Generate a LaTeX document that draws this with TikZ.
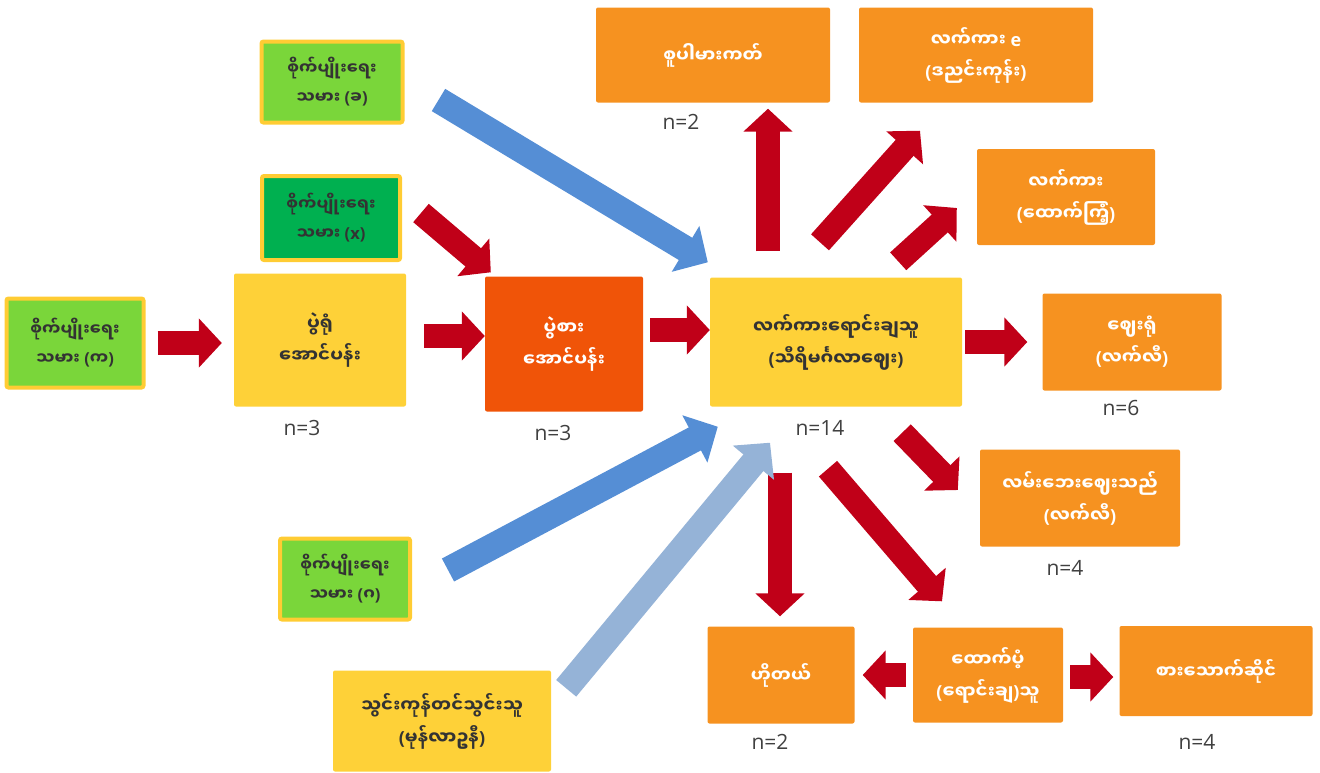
\documentclass[tikz,border=0pt]{standalone}
\usepackage{fontspec}
\setmainfont{Open Sans}
\newfontfamily\mmfont[Script=Myanmar]{Noto Sans Myanmar UI}
\newfontfamily\latfont{Open Sans}
\newcommand{\lat}[1]{{\latfont\bfseries #1}}
\newcommand{\parL}{\lat{(}}
\newcommand{\parR}{\lat{)}}
\usetikzlibrary{arrows.meta,calc,positioning}
\definecolor{grnlt}{RGB}{122,214,58}
\definecolor{grndk}{RGB}{0,176,80}
\definecolor{yel}{RGB}{254,209,56}
\definecolor{frame}{RGB}{255,204,51}
\definecolor{org}{RGB}{246,146,32}
\definecolor{orgred}{RGB}{240,84,8}
\definecolor{arrred}{RGB}{192,0,24}
\definecolor{arrblue}{RGB}{85,142,213}
\definecolor{arrlblue}{RGB}{149,179,215}
\definecolor{txtd}{RGB}{51,51,51}
\definecolor{ntext}{RGB}{64,64,64}

\begin{document}
\begin{tikzpicture}[x=1pt,y=-1pt]
\useasboundingbox (0,0) rectangle (1320,772);
			\begin{scope}[every node/.style={rounded corners=2pt,align=center,inner sep=2pt,
                font={\mmfont\bfseries\fontsize{18}{32}\selectfont}},
              farmer/.style={draw=frame,line width=4pt,text=txtd,
                font={\mmfont\bfseries\fontsize{16.5}{29}\selectfont}},
              ybox/.style={fill=yel,text=txtd},
              obox/.style={fill=org,text=white}]
    \node[farmer,fill=grnlt,minimum width=141pt,minimum height=81pt] (GB) at (332,82) {စိုက်ပျိုးရေး\\သမား \parL ခ\parR};
    \node[farmer,fill=grndk,minimum width=138pt,minimum height=84pt] (GX) at (331,218) {စိုက်ပျိုးရေး\\သမား \parL\lat{x}\parR};
    \node[farmer,fill=grnlt,minimum width=137pt,minimum height=89pt] (GK) at (75,343) {စိုက်ပျိုးရေး\\သမား \parL က\parR};
    \node[farmer,fill=grnlt,minimum width=130pt,minimum height=81pt] (GG) at (345,579) {စိုက်ပျိုးရေး\\သမား \parL ဂ\parR};
    \node[ybox,minimum width=172pt,minimum height=133pt] (Y1) at (320,340) {ပွဲရုံ\\အောင်ပန်း};
    \node[fill=orgred,text=white,minimum width=158pt,minimum height=135pt] (R) at (564,344) {ပွဲစား\\အောင်ပန်း};
    \node[ybox,minimum width=252pt,minimum height=129pt] (Y2) at (836,342) {လက်ကားရောင်းချသူ\\\parL သီရိမင်္ဂလာဈေး\parR};
    \node[ybox,minimum width=218pt,minimum height=101pt] (Y3) at (442,721) {သွင်းကုန်တင်သွင်းသူ\\\parL မုန်လာဥနီ\parR};
    \node[obox,minimum width=234pt,minimum height=95pt] (S) at (713,55) {စူပါမားကတ်};
    \node[obox,minimum width=234pt,minimum height=95pt] (E) at (976,55) {လက်ကား \lat{e}\\\parL ဒညင်းကုန်း\parR};
    \node[obox,minimum width=178pt,minimum height=96pt] (TK) at (1066,197) {လက်ကား\\\parL ထောက်ကြံ့\parR};
    \node[obox,minimum width=179pt,minimum height=97pt] (ZR) at (1132,342) {ဈေးရုံ\\\parL လက်လီ\parR};
    \node[obox,minimum width=200pt,minimum height=97pt] (LB) at (1080,498) {လမ်းဘေးဈေးသည်\\\parL လက်လီ\parR};
    \node[obox,minimum width=147pt,minimum height=97pt] (H) at (781,675) {ဟိုတယ်};
    \node[obox,minimum width=150pt,minimum height=95pt] (TP) at (988,675) {ထောက်ပံ့\\\parL ရောင်းချ\parR သူ};
    \node[obox,minimum width=193pt,minimum height=90pt] (RS) at (1216,671) {စားသောက်ဆိုင်};
			\end{scope}
			\begin{scope}[every node/.style={text=ntext,font=\fontsize{21}{24}\selectfont},
              redarr/.style={draw=arrred,line width=24pt,-{Triangle[length=23pt,width=48pt]}},
              bluarr/.style={draw=arrblue,line width=26pt,-{Triangle[length=26pt,width=52pt]}},
              lbarr/.style={draw=arrlblue,line width=26pt,-{Triangle[length=26pt,width=52pt]}}]
    % counts
    \node (n1) at (302,428) {n=3};
    \node (n2) at (553,433) {n=3};
    \node (n3) at (820,428) {n=14};
    \node (n4) at (681,122) {n=2};
    \node (n5) at (1121,408) {n=6};
    \node (n6) at (1065,568) {n=4};
    \node (n7) at (770,742) {n=2};
    \node (n8) at (1197,742) {n=4};
    % flows
    \path[redarr] ($(GK.east)+(12,0)$) -- ($(GK.east -| Y1.west)+(-12,0)$);
    \path[redarr] ($(Y1.east)+(18,-4)$) -- ($(Y1.east -| R.west)+(0,-4)$);
    \path[redarr] ($(GX.east)+(19,-5)$) -- ($(R.north west)+(6,-4)$);
    \path[redarr] ($(R.east)+(7,-14)$) -- ($(R.east -| Y2.west)+(0,-14)$);
    \path[redarr] ($(Y2.north)+(-68,-26)$) -- ($(S.south)+(55,6)$);
    \path[redarr] ($(Y2.north)+(-16,-35)$) -- ($(E.south)+(-56,28)$);
    \path[redarr] ($(Y2.north east)+(-64,-16)$) -- ($(TK.west)+(-20,11)$);
    \path[redarr] ($(Y2.east)+(3,0)$) -- ($(Y2.east -| ZR.west)+(-15,0)$);
    \path[redarr] ($(Y2.south east)+(-60,26)$) -- ($(LB.west)+(-22,-8)$);
    \path[redarr] ($(Y2.south)+(-56,66)$) -- ($(H.north)+(-1,-10)$);
    \path[redarr] ($(Y2.south)+(-8,62)$) -- ($(TP.north)+(-46,-26)$);
    \path[redarr] ($(TP.west)+(-7,0)$) -- ($(H.east)+(8,0)$);
    \path[redarr] ($(TP.east)+(7,2)$) -- ($(TP.east -| RS.west)+(-6,2)$);
    \path[bluarr] ($(GB.east)+(34,18)$) -- ($(Y2.north west)+(-2,-15)$);
    \path[bluarr] ($(GG.east)+(36,-9)$) -- ($(Y2.south west)+(8,20)$);
    \path[lbarr] ($(Y3.north east)+(15,18)$) -- ($(Y2.south)+(-66,36)$);
			\end{scope}
\end{tikzpicture}
\end{document}
